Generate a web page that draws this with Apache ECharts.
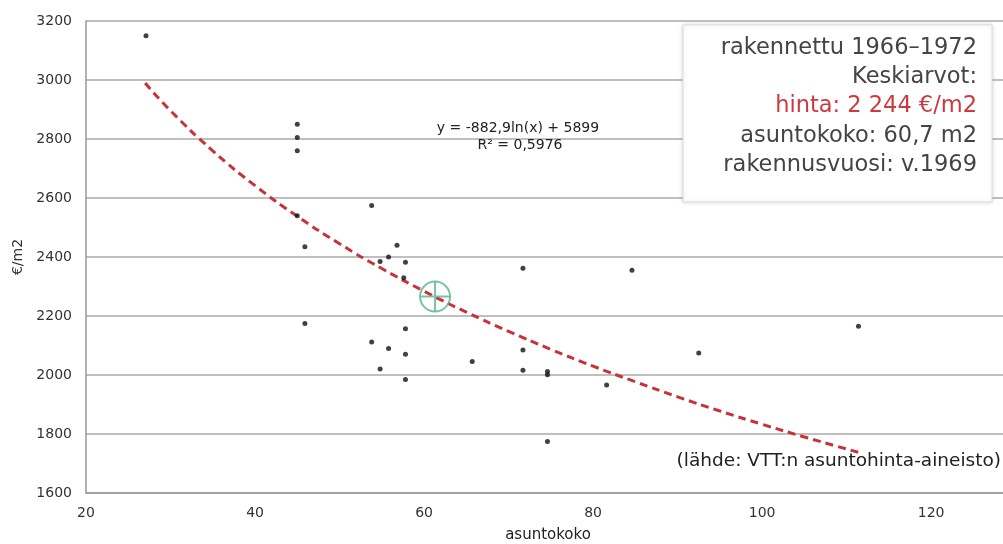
<!DOCTYPE html>
<html>
<head>
<meta charset="utf-8">
<script src="https://cdn.jsdelivr.net/npm/echarts@6/dist/echarts.min.js"></script>
<style>
html,body{margin:0;padding:0;background:#fff;}
#chart{width:1003px;height:544px;}
</style>
</head>
<body>
<div id="chart"></div>
<script>
// havainnot: asuntokoko (m2) ja hinta (€/m2)
var kokoData = [27.1, 45, 45, 45, 45, 45.9, 53.8, 56.8, 54.8, 55.8, 57.8, 57.6,
	45.9, 57.8, 53.8, 55.8, 57.8, 54.8, 57.8, 71.7, 84.6, 65.7, 71.7, 71.7,
	74.6, 74.6, 81.6, 74.6, 92.5, 111.4];
var hintaData = [3150, 2850, 2805, 2760, 2540, 2435, 2575, 2440, 2385, 2400, 2382, 2330,
	2175, 2157, 2112, 2090, 2070, 2020, 1985, 2362, 2355, 2046, 2085, 2016,
	2012, 2001, 1966, 1775, 2075, 2165];

// trendiviiva (luettu kuvasta)
var trendX = [27, 30, 35, 40, 45, 50, 55, 60, 65, 70, 75, 80, 85, 90, 95, 100, 105, 111.5];
var trendY = [2990, 2896, 2760, 2642, 2538, 2445, 2361, 2284, 2213, 2148, 2087, 2030, 1977, 1926, 1878, 1833, 1790, 1737];

// keskiarvopiste
var keskiX = [61.3];
var keskiY = [2266];

var xTicks = [20, 128.5, 20]; // min, max (kuva rajattu), interval
var yTicks = [1600, 3200, 200];

var infoLines = ['rakennettu 1966\u20131972', 'Keskiarvot:', 'hinta: 2 244 \u20ac/m2', 'asuntokoko: 60,7 m2', 'rakennusvuosi: v.1969'];

var chart = echarts.init(document.getElementById('chart'), null, {renderer: 'canvas'});

var pisteet = [];
for (var i = 0; i < kokoData.length; i++) {
	pisteet.push([kokoData[i], hintaData[i]]);
}
var trendi = [];
for (var j = 0; j < trendX.length; j++) {
	trendi.push([trendX[j], trendY[j]]);
}
var keski = [[keskiX[0], keskiY[0]]];

var graphics = [
	{
		type: 'text',
		x: 518, y: 121,
		style: {text: 'y = -882,9ln(x) + 5899', fill: '#222', font: '14px "DejaVu Sans"', textAlign: 'center'},
		z: 10
	},
	{
		type: 'text',
		x: 520, y: 138,
		style: {text: 'R\u00b2 = 0,5976', fill: '#222', font: '14px "DejaVu Sans"', textAlign: 'center'},
		z: 10
	},
	{
		type: 'rect',
		x: 683, y: 25,
		shape: {width: 309, height: 177},
		style: {fill: '#fff', stroke: '#ddd', lineWidth: 1, shadowBlur: 4, shadowColor: 'rgba(0,0,0,0.15)'},
		z: 10
	},
	{
		type: 'text',
		x: 1001, y: 452,
		style: {text: '(l\u00e4hde: VTT:n asuntohinta-aineisto)', fill: '#222', font: '18.5px "DejaVu Sans"', textAlign: 'right'},
		z: 10
	},
	{
		type: 'text',
		x: 548, y: 528,
		style: {text: 'asuntokoko', fill: '#222', font: '15px "DejaVu Sans"', textAlign: 'center'},
		z: 10
	}
];
var lineY = [50, 79, 108, 138, 167];
for (var k = 0; k < infoLines.length; k++) {
	graphics.push({
		type: 'text',
		x: 977, y: lineY[k] - 13,
		style: {
			text: infoLines[k],
			fill: k == 2 ? '#cc3a3f' : '#444',
			font: '22.5px "DejaVu Sans"',
			textAlign: 'right'
		},
		z: 11
	});
}

var option = {
	animation: false,
	backgroundColor: '#fff',
	grid: {left: 86, top: 21, right: 0, height: 472},
	xAxis: {
		type: 'value',
		min: xTicks[0], max: xTicks[1], interval: xTicks[2],
		axisLine: {show: true, lineStyle: {color: '#999', width: 1.5}},
		axisTick: {show: false},
		splitLine: {show: false},
		axisLabel: {color: '#333', fontSize: 14, fontFamily: 'DejaVu Sans', margin: 13, showMaxLabel: false}
	},
	yAxis: {
		type: 'value',
		min: yTicks[0], max: yTicks[1], interval: yTicks[2],
		name: '\u20ac/m2',
		nameLocation: 'middle',
		nameRotate: 90,
		nameGap: 60,
		nameTextStyle: {color: '#333', fontSize: 14, fontFamily: 'DejaVu Sans'},
		axisLine: {show: true, lineStyle: {color: '#999', width: 1.5}},
		axisTick: {show: false},
		splitLine: {show: true, lineStyle: {color: '#aaa', width: 1.5}},
		axisLabel: {color: '#333', fontSize: 14, fontFamily: 'DejaVu Sans', margin: 14,
			formatter: function (v) { return String(v); }}
	},
	series: [
		{
			name: 'trendi',
			type: 'line',
			data: trendi,
			smooth: true,
			showSymbol: false,
			lineStyle: {color: '#c8323a', width: 3, type: [8, 5]},
			z: 3
		},
		{
			name: 'havainnot',
			type: 'scatter',
			data: pisteet,
			symbolSize: 5,
			itemStyle: {color: '#111'},
			z: 4
		},
		{
			name: 'keskiarvo',
			type: 'scatter',
			data: keski,
			symbol: 'circle',
			symbolSize: 30,
			itemStyle: {color: 'rgba(255,255,255,0)', borderColor: '#5bb48e', borderWidth: 2},
			z: 5
		},
		{
			name: 'risti',
			type: 'scatter',
			data: keski,
			symbol: 'path://M0,15 L30,15 M15,0 L15,30',
			symbolSize: 30,
			itemStyle: {color: 'none', borderColor: '#5bb48e', borderWidth: 2},
			z: 5
		}
	],
	graphic: graphics
};

chart.setOption(option);
</script>
</body>
</html>
